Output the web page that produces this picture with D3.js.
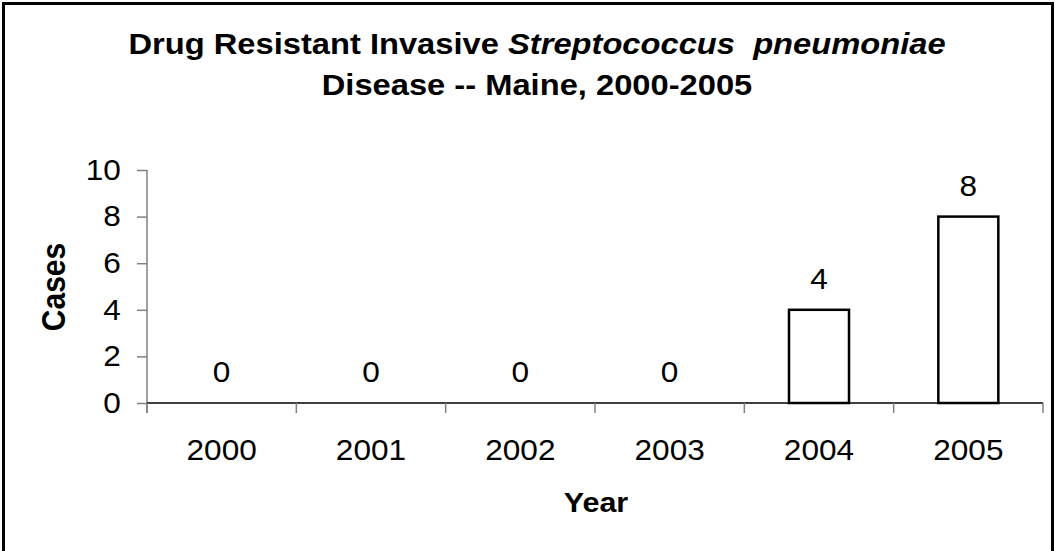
<!DOCTYPE html>
<html>
<head>
<meta charset="utf-8">
<script src="https://cdn.jsdelivr.net/npm/d3@7"></script>
<style>
  html, body { margin: 0; padding: 0; background: #fff; }
  svg { display: block; font-family: "Liberation Sans", Arial, sans-serif; }
  .pre { white-space: pre; }
</style>
</head>
<body>
<svg id="chart" width="1055" height="551"></svg>
<script>
const years = ["2000", "2001", "2002", "2003", "2004", "2005"];
const cases = [0, 0, 0, 0, 4, 8];
const yTicks = [0, 2, 4, 6, 8, 10];
const titleLine1 = ["Drug Resistant Invasive ", "Streptococcus  pneumoniae"];
const titleLine2 = "Disease -- Maine, 2000-2005";
const xTitle = "Year";
const yTitle = "Cases";

const svg = d3.select("#chart");
const W = 1055, H = 551;
const m = { left: 147, right: 1043, top: 170, bottom: 403 };
const SX = 1.09; // horizontal stretch of text seen in the reference
const FS = 29;

svg.append("rect").attr("width", W).attr("height", H).attr("fill", "#fff");
// outer frame
svg.append("rect")
  .attr("x", 3.5).attr("y", 3.5).attr("width", W - 6).attr("height", H + 20)
  .attr("fill", "none").attr("stroke", "#000").attr("stroke-width", 3);

const xb = d3.scaleBand().domain(years).range([m.left, m.right]);
const y = d3.scaleLinear().domain([0, 10]).range([m.bottom, m.top]);

function stretchedText(parent, x, yy, rot) {
  return parent.append("text")
    .attr("transform", `translate(${x},${yy})` + (rot ? ` rotate(${rot})` : "") + (rot ? ` scale(1,${SX})` : ` scale(${SX},1)`));
}

// title
const t = stretchedText(svg, 537, 54).attr("text-anchor", "middle").attr("class", "pre")
  .attr("font-size", 30).attr("font-weight", "bold");
t.append("tspan").text(titleLine1[0]);
t.append("tspan").attr("font-style", "italic").text(titleLine1[1]);
stretchedText(svg, 537, 95).attr("text-anchor", "middle")
  .attr("font-size", 30).attr("font-weight", "bold").text(titleLine2);

// y axis
const yAxis = svg.append("g").attr("transform", `translate(${m.left},0)`)
  .call(d3.axisLeft(y).tickValues(yTicks).tickSize(10).tickPadding(14));
yAxis.select(".domain").attr("stroke", "#808080").attr("stroke-width", 1.5)
  .attr("d", `M0,${m.top}V${m.bottom + 10}`);
yAxis.selectAll(".tick line").attr("stroke", "#808080").attr("stroke-width", 1.5);
yAxis.selectAll(".tick text").attr("font-size", FS).attr("fill", "#000")
  .attr("font-family", "Liberation Sans, Arial, sans-serif")
  .attr("transform", `scale(${SX},1)`);

// x axis
const xAxis = svg.append("g").attr("transform", `translate(0,${m.bottom})`)
  .call(d3.axisBottom(xb).tickSize(0).tickPadding(57));
xAxis.select(".domain").attr("stroke", "#000").attr("stroke-width", 1.5)
  .attr("d", `M${m.left},0H${m.right}`);
xAxis.selectAll(".tick text").attr("font-size", FS).attr("fill", "#000")
  .attr("font-family", "Liberation Sans, Arial, sans-serif").attr("dy", "0")
  .attr("transform", `scale(${SX},1)`);
// category boundary ticks
const bounds = years.map(d => xb(d)).concat([xb(years[years.length - 1]) + xb.bandwidth()]);
svg.append("g").selectAll("line").data(bounds).join("line")
  .attr("x1", d => d).attr("x2", d => d)
  .attr("y1", m.bottom).attr("y2", m.bottom + 10)
  .attr("stroke", "#808080").attr("stroke-width", 1.5);

const rows = years.map((d, i) => ({ year: d, v: cases[i] }));

// bars
svg.append("g").selectAll("rect").data(rows.filter(d => d.v > 0))
  .join("rect")
  .attr("x", d => xb(d.year) + xb.bandwidth() / 2 - 30)
  .attr("width", 60)
  .attr("y", d => y(d.v))
  .attr("height", d => y(0) - y(d.v))
  .attr("fill", "#fff").attr("stroke", "#000").attr("stroke-width", 2.5);

// value labels
const lbl = svg.append("g");
rows.forEach(d => {
  stretchedText(lbl, xb(d.year) + xb.bandwidth() / 2, y(d.v) - 21)
    .attr("text-anchor", "middle").attr("font-size", FS).text(d.v);
});

// axis titles
stretchedText(svg, 596, 512).attr("text-anchor", "middle")
  .attr("font-size", 28).attr("font-weight", "bold").text(xTitle);
stretchedText(svg, 65, 287, -90).attr("text-anchor", "middle")
  .attr("font-size", 30).attr("font-weight", "bold").text(yTitle);
</script>
</body>
</html>
